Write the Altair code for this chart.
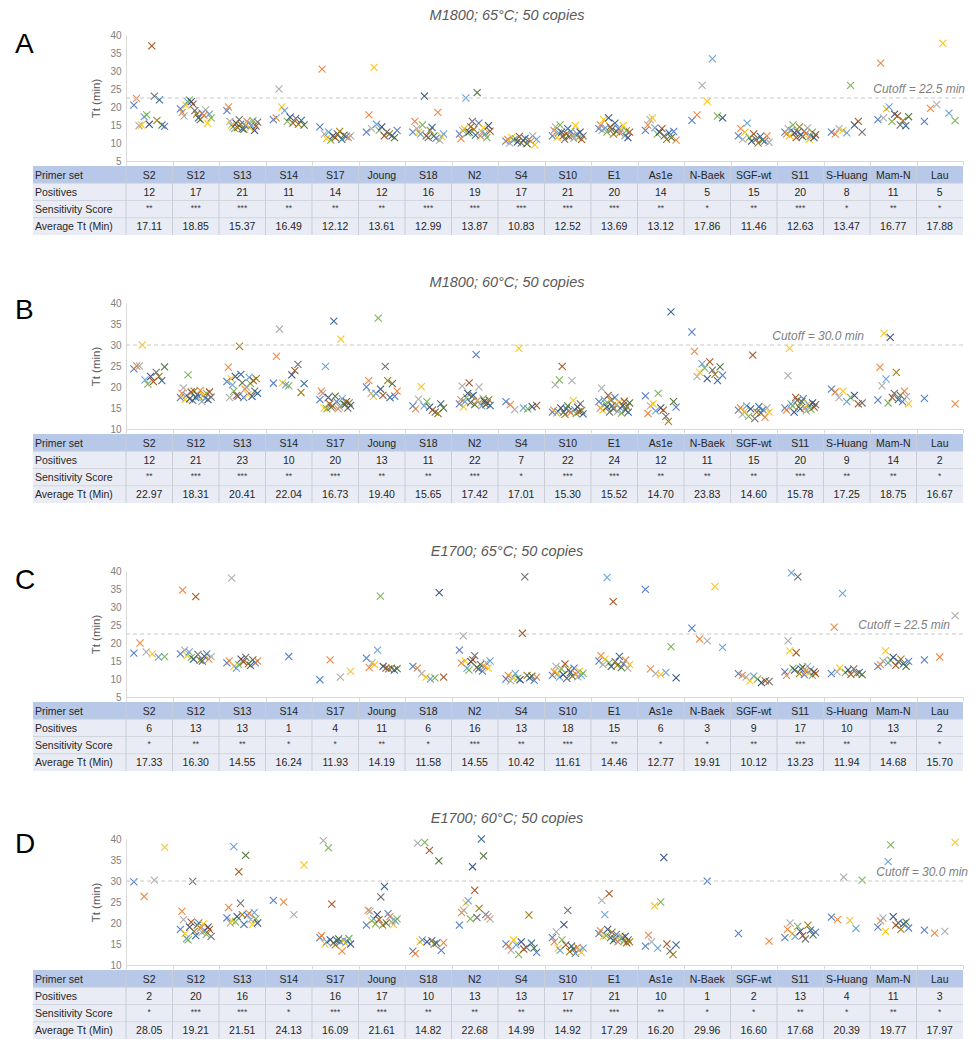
import altair as alt
import pandas as pd

CATEGORIES = ["S2", "S12", "S13", "S14", "S17", "Joung", "S18", "N2", "S4", "S10",
              "E1", "As1e", "N-Baek", "SGF-wt", "S11", "S-Huang", "Mam-N", "Lau"]
ROW_LABELS = ["Primer set", "Positives", "Sensitivity Score", "Average Tt (Min)"]
PANEL_LETTERS = ["A", "B", "C", "D"]
PANEL_TITLES = ["M1800; 65°C; 50 copies", "M1800; 60°C; 50 copies",
                "E1700; 65°C; 50 copies", "E1700; 60°C; 50 copies"]
CUTOFFS = [22.5, 30.0, 22.5, 30.0]
CUTOFF_LABELS = ["Cutoff = 22.5 min", "Cutoff = 30.0 min", "Cutoff = 22.5 min", "Cutoff = 30.0 min"]
Y_MIN = [5, 10, 5, 10]

A_POSITIVES = [12, 17, 21, 11, 14, 12, 16, 19, 17, 21, 20, 14, 5, 15, 20, 8, 11, 5]
A_SCORE = ["**", "***", "***", "**", "**", "**", "***", "***", "***", "***", "***", "**", "*", "**", "***", "*", "**", "*"]
A_AVG = ["17.11", "18.85", "15.37", "16.49", "12.12", "13.61", "12.99", "13.87", "10.83", "12.52",
         "13.69", "13.12", "17.86", "11.46", "12.63", "13.47", "16.77", "17.88"]
A_TT = [
    [20.5, 22.4, 14.8, 15.0, 17.3, 17.8, 15.2, 37.0, 23.0, 16.3, 22.0, 15.0, 14.6],
    [19.5, 18.5, 17.5, 20.5, 21.5, 22.0, 21.5, 20.8, 19.0, 18.0, 17.0, 16.5, 18.3, 17.7, 19.2, 15.5, 18.0, 17.0],
    [19.0, 20.0, 16.0, 15.0, 14.5, 14.0, 15.5, 14.3, 16.5, 15.2, 14.0, 13.8, 14.8, 16.0, 15.5, 14.2, 15.0, 16.2, 13.5, 14.7, 15.8],
    [16.5, 17.0, 25.0, 20.0, 19.0, 16.0, 17.2, 15.5, 16.8, 15.2, 16.3, 15.0],
    [14.5, 30.5, 12.5, 11.2, 13.0, 10.8, 12.0, 11.5, 12.5, 13.2, 11.0, 12.2, 11.8, 11.5, 12.0],
    [13.0, 17.8, 14.0, 31.0, 15.2, 13.5, 14.5, 12.0, 13.0, 12.5, 12.0, 11.5, 13.5],
    [13.0, 16.0, 14.0, 13.0, 12.5, 15.0, 23.0, 12.0, 11.5, 13.5, 14.3, 12.0, 11.3, 18.5, 10.8, 11.8, 12.5],
    [12.5, 11.2, 13.5, 14.0, 22.5, 12.8, 13.0, 14.5, 16.0, 13.8, 12.2, 24.0, 15.5, 12.0, 13.0, 14.2, 12.5, 11.5, 14.8, 13.3],
    [10.5, 11.0, 10.0, 11.5, 10.8, 11.2, 10.3, 11.8, 10.0, 10.7, 11.3, 9.8, 11.0, 10.5, 12.0, 9.5, 11.0],
    [12.0, 13.5, 14.5, 11.5, 12.8, 15.0, 13.0, 12.0, 11.0, 12.5, 14.0, 11.8, 13.2, 12.0, 11.3, 14.8, 12.6, 11.5, 13.0, 11.0, 12.0],
    [14.0, 15.0, 13.5, 16.5, 14.2, 13.0, 17.0, 14.5, 13.8, 12.5, 15.5, 13.2, 14.0, 12.8, 13.6, 14.8, 12.0, 13.4, 11.5, 13.0],
    [13.5, 15.0, 16.5, 17.0, 14.2, 12.5, 13.0, 14.0, 12.0, 11.0, 12.8, 11.5, 13.2, 10.8],
    [16.3, 17.8, 26.0, 21.6, 33.4, 17.5, 17.0],
    [12.0, 14.0, 11.0, 13.0, 15.5, 11.5, 10.5, 12.5, 11.0, 10.0, 11.8, 10.8, 10.5, 12.0, 10.2],
    [13.0, 12.5, 14.0, 12.0, 13.5, 15.0, 12.8, 11.5, 13.0, 14.5, 12.2, 11.8, 13.3, 12.6, 14.2, 11.0, 12.0, 13.0, 11.5, 12.3],
    [13.0, 12.5, 14.0, 13.5, 12.8, 26.0, 15.0, 16.0, 13.0],
    [16.5, 32.2, 17.0, 19.5, 20.0, 16.0, 18.0, 17.5, 15.0, 16.2, 14.8, 17.3],
    [16.0, 19.6, 20.7, 37.7, 18.3, 16.2],
]

B_POSITIVES = [12, 21, 23, 10, 20, 13, 11, 22, 7, 22, 24, 12, 11, 15, 20, 9, 14, 2]
B_SCORE = ["**", "***", "***", "**", "***", "**", "**", "***", "*", "***", "***", "**", "**", "**", "***", "**", "**", "*"]
B_AVG = ["22.97", "18.31", "20.41", "22.04", "16.73", "19.40", "15.65", "17.42", "17.01", "15.30",
         "15.52", "14.70", "23.83", "14.60", "15.78", "17.25", "18.75", "16.67"]
B_TT = [
    [24.3, 25.0, 25.0, 30.0, 21.7, 20.7, 22.5, 21.3, 23.5, 22.5, 21.5, 24.8],
    [17.5, 18.5, 19.8, 17.0, 18.0, 22.9, 17.2, 18.8, 16.8, 19.0, 17.5, 18.2, 17.8, 19.2, 16.5, 18.0, 17.3, 18.5, 17.0, 18.8, 17.6],
    [21.3, 24.7, 17.5, 22.0, 20.5, 19.0, 22.5, 18.0, 17.8, 29.7, 23.0, 21.0, 17.5, 19.5, 20.0, 18.2, 22.3, 20.8, 17.8, 21.5, 19.0, 22.0, 18.5],
    [20.9, 27.3, 33.8, 21.0, 20.5, 20.3, 22.9, 23.9, 25.4, 18.7, 20.8],
    [17.0, 19.0, 18.5, 15.0, 24.9, 14.8, 17.5, 16.0, 15.2, 15.5, 35.7, 17.8, 16.5, 14.8, 15.3, 31.4, 17.2, 16.0, 15.8, 16.5, 15.0, 16.2, 15.6],
    [20.0, 21.5, 18.5, 17.8, 18.5, 36.4, 19.5, 18.0, 24.9, 21.5, 17.5, 20.8, 17.8, 19.0],
    [15.5, 14.8, 17.1, 20.1, 15.5, 16.5, 15.2, 14.5, 14.0, 13.7, 16.0, 15.0],
    [16.0, 17.0, 20.2, 15.3, 16.5, 17.5, 18.5, 21.0, 16.3, 17.8, 18.0, 15.8, 27.7, 16.8, 20.0, 16.0, 15.5, 17.2, 16.6, 15.8, 16.2, 17.0, 15.6],
    [16.5, 15.8, 14.6, 29.2, 15.0, 14.8, 15.3, 15.6],
    [14.0, 14.5, 20.5, 13.8, 14.2, 21.7, 15.0, 24.9, 14.0, 13.5, 14.8, 15.5, 14.3, 13.9, 21.5, 16.8, 14.6, 13.7, 15.2, 14.1, 16.0, 14.4, 13.6],
    [16.5, 15.0, 19.7, 14.5, 17.0, 16.0, 15.2, 18.0, 14.0, 16.8, 15.5, 14.8, 17.5, 15.8, 14.2, 16.3, 15.0, 13.8, 15.6, 16.6, 14.5, 15.3, 14.0, 16.2],
    [17.9, 13.7, 15.5, 16.0, 14.3, 18.5, 15.0, 14.5, 13.0, 11.8, 37.9, 16.5, 15.2],
    [33.1, 28.5, 22.5, 23.5, 25.5, 24.5, 22.0, 26.0, 24.0, 23.0, 21.5, 24.8, 22.8],
    [14.5, 15.0, 13.5, 14.2, 15.5, 13.0, 14.8, 27.6, 12.5, 14.0, 15.3, 13.8, 14.6, 12.8, 15.0, 14.0],
    [15.0, 14.5, 22.7, 29.2, 16.0, 15.5, 14.0, 17.5, 16.8, 15.3, 14.8, 16.5, 17.2, 15.0, 14.3, 16.0, 15.6, 14.7, 16.2, 15.2, 15.8],
    [19.5, 18.8, 17.5, 19.0, 16.5, 17.5, 18.0, 16.0, 16.2],
    [16.9, 24.7, 20.3, 32.8, 21.9, 16.2, 31.8, 17.5, 18.5, 23.5, 17.0, 18.0, 16.5, 19.0, 17.7, 16.0],
    [17.3, 16.0],
]

C_POSITIVES = [6, 13, 13, 1, 4, 11, 6, 16, 13, 18, 15, 6, 3, 9, 17, 10, 13, 2]
C_SCORE = ["*", "**", "**", "*", "*", "**", "*", "***", "**", "***", "**", "*", "*", "**", "***", "**", "**", "*"]
C_AVG = ["17.33", "16.30", "14.55", "16.24", "11.93", "14.19", "11.58", "14.55", "10.42", "11.61",
         "14.46", "12.77", "19.91", "10.12", "13.23", "11.94", "14.68", "15.70"]
C_TT = [
    [17.2, 20.0, 17.5, 17.0, 16.1, 16.2],
    [17.0, 34.7, 18.0, 16.5, 17.5, 16.0, 15.5, 32.9, 16.8, 15.2, 15.0, 16.3, 17.0, 15.5, 16.2],
    [14.5, 15.0, 38.0, 13.5, 13.0, 14.0, 15.5, 14.8, 16.0, 14.2, 13.8, 15.3, 14.5, 15.0],
    [16.24],
    [9.8, 15.3, 10.5, 12.1],
    [15.8, 13.2, 14.5, 14.0, 18.0, 33.0, 13.5, 13.0, 12.8, 13.0, 12.5, 12.9],
    [13.5, 13.0, 11.5, 10.5, 10.0, 10.3, 34.0, 10.5],
    [18.0, 14.5, 22.0, 15.0, 13.0, 12.5, 14.8, 15.3, 16.5, 13.2, 12.8, 14.0, 12.2, 13.5, 14.5, 13.0, 15.0],
    [10.0, 11.0, 9.5, 10.5, 11.5, 10.2, 9.8, 22.7, 38.4, 11.0, 10.3, 10.8, 9.6, 10.5],
    [11.0, 12.0, 13.5, 11.5, 10.5, 12.8, 11.2, 14.2, 10.2, 12.5, 11.8, 10.8, 13.0, 11.4, 10.6, 12.2, 11.0, 11.6],
    [15.0, 16.5, 14.0, 15.5, 38.2, 14.5, 13.5, 31.5, 14.8, 13.8, 16.3, 13.2, 14.2, 15.2, 13.0, 14.0],
    [34.9, 12.8, 11.5, 11.2, 11.8, 19.0, 10.3],
    [24.1, 21.1, 20.6, 35.7, 18.8],
    [11.5, 11.0, 10.5, 9.5, 10.8, 10.0, 9.0, 9.5, 9.3],
    [12.0, 11.0, 20.6, 17.8, 39.5, 13.0, 12.5, 17.3, 38.4, 11.5, 12.8, 13.3, 11.2, 12.2, 13.5, 11.8, 12.6, 11.0, 12.0, 11.5],
    [11.5, 24.4, 12.0, 13.0, 33.8, 11.8, 12.5, 11.3, 12.8, 11.5, 11.8, 11.2],
    [13.5, 14.0, 15.0, 17.8, 14.5, 15.2, 16.0, 13.8, 14.8, 15.5, 14.2, 13.5, 14.9],
    [15.3, 16.1, 27.6],
]

D_POSITIVES = [2, 20, 16, 3, 16, 17, 10, 13, 13, 17, 21, 10, 1, 2, 13, 4, 11, 3]
D_SCORE = ["*", "***", "***", "*", "***", "***", "**", "**", "**", "***", "***", "**", "*", "*", "**", "*", "**", "*"]
D_AVG = ["28.05", "19.21", "21.51", "24.13", "16.09", "21.61", "14.82", "22.68", "14.99", "14.92",
         "17.29", "16.20", "29.96", "16.60", "17.68", "20.39", "19.77", "17.97"]
D_TT = [
    [29.8, 26.3, 30.2, 38.0],
    [18.5, 22.8, 20.8, 17.5, 16.3, 16.0, 19.0, 20.2, 29.9, 18.0, 17.0, 19.5, 20.0, 18.8, 17.8, 19.8, 18.2, 17.3, 19.0, 18.5, 16.8],
    [21.2, 23.7, 20.0, 20.5, 38.2, 20.3, 21.5, 32.2, 24.7, 22.0, 19.7, 36.1, 21.8, 22.3, 20.8, 19.6, 22.5, 21.0, 20.0],
    [25.4, 25.0, 22.0, 33.8],
    [16.5, 17.0, 39.6, 15.0, 15.5, 37.9, 16.0, 24.5, 15.3, 14.8, 15.8, 16.2, 15.5, 13.3, 16.0, 15.2, 15.6, 16.3, 15.0],
    [19.5, 23.0, 22.8, 20.5, 21.0, 19.8, 22.0, 20.8, 26.2, 19.5, 28.7, 20.0, 22.2, 21.5, 20.3, 19.6, 20.5, 21.0],
    [13.3, 12.7, 39.0, 15.5, 16.0, 39.2, 15.5, 37.3, 15.8, 15.0, 15.2, 34.8, 13.5, 15.3],
    [19.5, 22.5, 23.0, 24.8, 25.3, 21.0, 33.4, 27.8, 21.3, 23.5, 40.0, 36.0, 22.0, 21.5, 21.0],
    [15.0, 14.5, 13.5, 16.0, 14.8, 12.5, 15.5, 13.8, 14.2, 21.9, 15.2, 14.0, 13.0],
    [16.5, 15.5, 17.9, 14.0, 13.5, 16.0, 19.6, 14.8, 23.0, 13.2, 14.5, 13.8, 12.8, 14.2, 13.5, 13.0, 14.0],
    [17.5, 18.2, 25.4, 16.8, 22.0, 17.0, 18.5, 27.0, 16.5, 17.8, 15.8, 16.2, 17.3, 15.5, 16.0, 17.0, 16.5, 15.7, 16.8, 15.3, 16.0, 15.5],
    [14.5, 17.1, 15.5, 24.1, 14.0, 25.0, 35.6, 15.0, 13.3, 12.5, 14.8],
    [29.96],
    [17.5, 15.7],
    [16.5, 18.5, 20.0, 17.5, 16.8, 19.2, 18.0, 17.0, 16.2, 19.5, 18.3, 17.2, 17.8],
    [21.4, 20.8, 30.9, 20.6, 18.7, 30.2],
    [19.0, 20.5, 21.2, 18.0, 34.6, 38.6, 21.5, 19.5, 20.0, 18.5, 19.8, 20.2, 18.8],
    [18.3, 17.6, 18.0, 39.2],
]

PALETTE = ["#4472C4", "#ED7D31", "#A5A5A5", "#FFC000", "#5B9BD5", "#70AD47",
           "#264478", "#9E480E", "#636363", "#997300", "#255E91", "#43682B"]

POSITIVES = [A_POSITIVES, B_POSITIVES, C_POSITIVES, D_POSITIVES]
SCORES = [A_SCORE, B_SCORE, C_SCORE, D_SCORE]
AVGS = [A_AVG, B_AVG, C_AVG, D_AVG]
TTS = [A_TT, B_TT, C_TT, D_TT]

# ---- layout (pixels) ----
NCAT = len(CATEGORIES)
PLOT_W = 837
PLOT_H = 126
ROW_H = 17.25
TABLE_H_GAP = 132
TABLE_H_LAST = 69
SPACING = 5
FONT = "Liberation Sans"
XPATH = "M-1,-1L1,1M-1,1L1,-1"
HEAD_FILL = "#B7C8E8"
BODY_FILL = "#E9ECF5"

TITLE_Y = [-19, -20, -19, -20]
LETTER_Y = [18, 16, 18, 14]
CUT_LABEL_X = [839, 738, 824, 842]


def xscale():
    return alt.Scale(domain=[0, NCAT], nice=False, zero=False)


def scatter_panel(p):
    rows = []
    for k, vals in enumerate(TTS[p]):
        n = len(vals)
        for i, v in enumerate(vals):
            off = 0.0 if n == 1 else (i / (n - 1) - 0.5) * 0.66
            rows.append({"x": k + 0.5 + off, "tt": v, "rep": "r" + str(i % 12)})
    df = pd.DataFrame(rows)
    ymin = Y_MIN[p]
    yscale = alt.Scale(domain=[ymin, 40], nice=False, zero=False)
    xenc = alt.X("x:Q", scale=xscale(),
                 axis=alt.Axis(values=list(range(NCAT + 1)), labels=False, ticks=True, tickSize=4,
                               tickColor="#D9D9D9", domainColor="#D9D9D9", grid=False, title=None))
    yenc = alt.Y("tt:Q", scale=yscale,
                 axis=alt.Axis(values=list(range(ymin, 41, 5)), grid=False, ticks=False, labelPadding=5,
                               labelOverlap=False, labelFlush=False, labelBound=False,
                               domainColor="#D9D9D9", labelColor="#7F7F7F", labelFontSize=10, labelFont=FONT,
                               title="Tt (min)", titleFont=FONT, titleFontSize=11.5, titleColor="#595959",
                               titleFontWeight="normal", titlePadding=8))
    points = alt.Chart(df).mark_point(shape=XPATH, filled=False, size=50, strokeWidth=1.1, opacity=0.9).encode(
        x=xenc, y=yenc,
        stroke=alt.Stroke("rep:N", scale=alt.Scale(domain=["r" + str(i) for i in range(12)], range=PALETTE),
                          legend=None),
    )
    cut_df = pd.DataFrame({"x": [0.0], "x2": [float(NCAT)], "tt": [CUTOFFS[p]], "label": [CUTOFF_LABELS[p]]})
    rule = alt.Chart(cut_df).mark_rule(strokeDash=[4, 3], color="#C8C8C8", strokeWidth=1).encode(
        x=xenc, x2="x2:Q", y=yenc)
    cut_text = alt.Chart(cut_df).mark_text(align="right", baseline="middle", dy=-9, fontSize=12,
                                           fontStyle="italic", color="#7F7F7F", font=FONT).encode(
        x=alt.value(CUT_LABEL_X[p]), y=yenc, text="label:N")
    title_df = pd.DataFrame({"t": [PANEL_TITLES[p]]})
    title = alt.Chart(title_df).mark_text(align="center", baseline="middle", fontSize=14.5, fontStyle="italic",
                                          color="#595959", font=FONT).encode(
        x=alt.value(381), y=alt.value(TITLE_Y[p]), text="t:N")
    letter_df = pd.DataFrame({"t": [PANEL_LETTERS[p]]})
    letter = alt.Chart(letter_df).mark_text(align="left", baseline="alphabetic", fontSize=28,
                                            color="#000000", font=FONT).encode(
        x=alt.value(-111), y=alt.value(LETTER_Y[p]), text="t:N")
    return alt.layer(points, rule, cut_text, title, letter).properties(width=PLOT_W, height=PLOT_H)


def table_panel(p, height):
    ydom = alt.Scale(domain=[0, height / ROW_H], reverse=True, nice=False, zero=False)
    cells = []
    texts = []
    for r, lab in enumerate(ROW_LABELS):
        kind = "head" if r == 0 else "body"
        cells.append({"x0": -2.0, "x1": 0.0, "y0": r, "y1": r + 1, "kind": kind})
        texts.append({"x": -2.0, "y": r + 0.5, "t": lab, "pos": "label", "kind": kind})
        for k in range(NCAT):
            cells.append({"x0": float(k), "x1": float(k + 1), "y0": r, "y1": r + 1, "kind": kind})
            if r == 0:
                val = CATEGORIES[k]
            elif r == 1:
                val = str(POSITIVES[p][k])
            elif r == 2:
                val = SCORES[p][k]
            else:
                val = AVGS[p][k]
            texts.append({"x": k + 0.5, "y": r + 0.5, "t": val, "pos": "cell", "kind": kind})
    cdf = pd.DataFrame(cells)
    tdf = pd.DataFrame(texts)
    head_rects = alt.Chart(cdf[cdf["kind"] == "head"]).mark_rect(color=HEAD_FILL).encode(
        x=alt.X("x0:Q", scale=xscale(), axis=None), x2="x1:Q",
        y=alt.Y("y0:Q", scale=ydom, axis=None), y2="y1:Q")
    body_rects = alt.Chart(cdf[cdf["kind"] == "body"]).mark_rect(color=BODY_FILL).encode(
        x=alt.X("x0:Q", scale=xscale(), axis=None), x2="x1:Q",
        y=alt.Y("y0:Q", scale=ydom, axis=None), y2="y1:Q")
    hl = pd.DataFrame({"x0": [-2.0] * 3, "x1": [float(NCAT)] * 3, "y0": [1.0, 2.0, 3.0]})
    hrules = alt.Chart(hl).mark_rule(color="#D2D5DC", strokeWidth=1).encode(
        x=alt.X("x0:Q", scale=xscale(), axis=None), x2="x1:Q", y=alt.Y("y0:Q", scale=ydom, axis=None))
    vl = pd.DataFrame({"x0": [float(k) for k in range(NCAT)], "y0": [0.0] * NCAT, "y1": [4.0] * NCAT})
    vrules = alt.Chart(vl).mark_rule(color="#C9CDD5", strokeWidth=1).encode(
        x=alt.X("x0:Q", scale=xscale(), axis=None), y=alt.Y("y0:Q", scale=ydom, axis=None), y2="y1:Q")
    lab_text = alt.Chart(tdf[tdf["pos"] == "label"]).mark_text(
        align="left", baseline="middle", dx=2, dy=1, fontSize=10.5, color="#262626", font=FONT).encode(
        x=alt.X("x:Q", scale=xscale(), axis=None), y=alt.Y("y:Q", scale=ydom, axis=None), text="t:N")
    cell_df = tdf[tdf["pos"] == "cell"]
    star_mask = cell_df["t"].str.startswith("*")
    cell_text = alt.Chart(cell_df[~star_mask]).mark_text(
        align="center", baseline="middle", dy=1, fontSize=10.5, color="#262626", font=FONT).encode(
        x=alt.X("x:Q", scale=xscale(), axis=None), y=alt.Y("y:Q", scale=ydom, axis=None), text="t:N")
    star_text = alt.Chart(cell_df[star_mask]).mark_text(
        align="center", baseline="middle", dy=-1, fontSize=8.5, color="#404040", font=FONT).encode(
        x=alt.X("x:Q", scale=xscale(), axis=None), y=alt.Y("y:Q", scale=ydom, axis=None), text="t:N")
    return alt.layer(head_rects, body_rects, hrules, vrules, lab_text, cell_text, star_text).properties(
        width=PLOT_W, height=height)


charts = []
for p in range(4):
    charts.append(scatter_panel(p))
    charts.append(table_panel(p, TABLE_H_LAST if p == 3 else TABLE_H_GAP))

chart = alt.vconcat(*charts, spacing=SPACING, bounds="flush").properties(
    padding={"left": 7, "top": 0, "right": 0, "bottom": 0}
).configure_view(stroke=None).configure_axis(labelOverlap=False)

chart.save("out.html", embed_options={"renderer": "svg", "actions": False})
